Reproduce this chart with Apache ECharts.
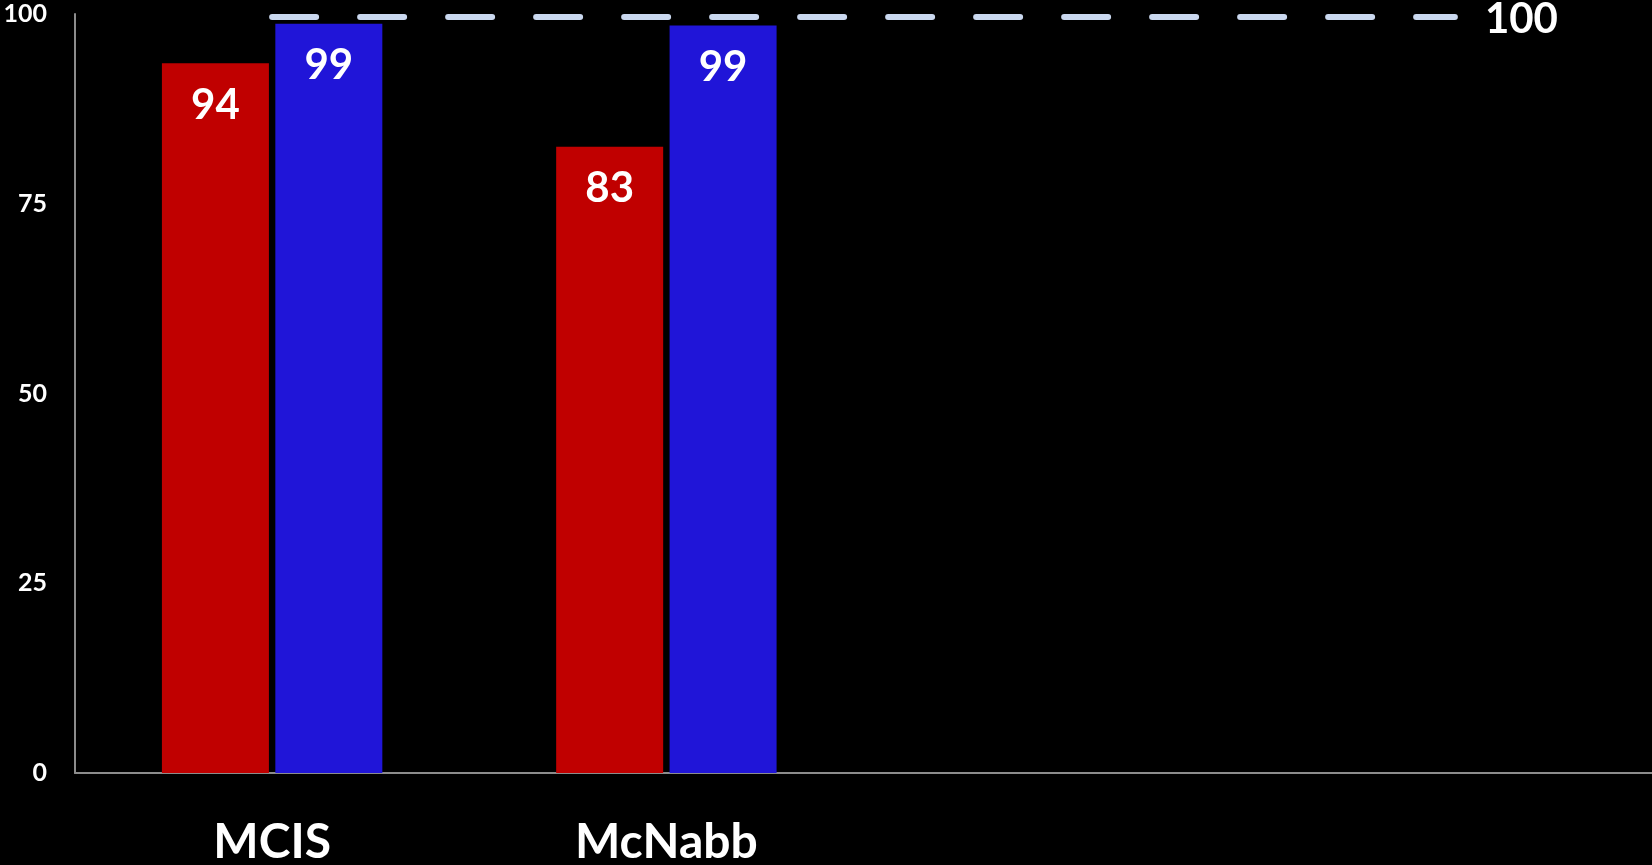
<!DOCTYPE html>
<html>
<head>
<meta charset="utf-8">
<title>MCIS vs McNabb</title>
<script src="https://cdn.jsdelivr.net/npm/echarts@6/dist/echarts.min.js"></script>
<style>
  html, body { margin: 0; padding: 0; background: #000; }
  #chart { width: 1652px; height: 865px; }
</style>
</head>
<body>
<div id="chart"></div>
<script>
  // data
  const categories = ['MCIS', 'McNabb', '', '']
  const redValues = [93.5, 82.5, null, null]
  const blueValues = [98.7, 98.5, null, null]
  const targetValues = [100, 100, 100, 100]
  const yTicks = [0, 25, 50, 75, 100]

  const font = 'Lato, "Open Sans", sans-serif'

  let barLabel = {
    show: true,
    position: 'insideTop',
    distance: 21,
    color: '#fff',
    fontSize: 42,
    fontWeight: 'bold',
    fontFamily: font,
    formatter: p => Math.round(p.value)
  }

  let myChart = echarts.init(document.getElementById('chart'))
  myChart.setOption({
    backgroundColor: '#000',
    animation: false,
    grid: {
      left: 75,
      right: 0,
      top: 14,
      bottom: 92,
      outerBoundsMode: 'none'
    },
    xAxis: {
      type: 'category',
      data: categories,
      axisLine: { lineStyle: { color: '#8c8c8c', width: 2 } },
      axisTick: { show: false },
      axisLabel: {
        color: '#fff',
        fontSize: 48,
        fontWeight: 'bold',
        fontFamily: font,
        margin: 46
      }
    },
    yAxis: [{
      type: 'value',
      min: yTicks[0],
      max: yTicks[yTicks.length - 1],
      interval: yTicks[1] - yTicks[0],
      axisLine: { show: true, lineStyle: { color: '#8c8c8c', width: 2 } },
      axisTick: { show: false },
      splitLine: { show: false },
      axisLabel: {
        color: '#fff',
        fontSize: 25,
        fontWeight: 'bold',
        fontFamily: font,
        margin: 28
      }
    }, {
      // 隐藏的轴，只为把目标线往下挪一点（原图里线被顶部裁了一半）
      type: 'value',
      show: false,
      min: 0,
      max: 100.4,
      splitLine: { show: false }
    }],
    series: [{
      name: 'red',
      type: 'bar',
      data: redValues,
      barWidth: 107,
      barGap: '6%',
      itemStyle: { color: '#c00000' },
      label: barLabel
    }, {
      name: 'blue',
      type: 'bar',
      data: blueValues,
      barWidth: 107,
      itemStyle: { color: '#2015d8' },
      label: barLabel
    }, {
      name: 'target',
      type: 'line',
      yAxisIndex: 1,
      data: targetValues,
      symbol: 'none',
      lineStyle: {
        color: '#cad8ef',
        width: 6,
        type: [44, 44],
        cap: 'round'
      },
      endLabel: {
        show: true,
        formatter: '{c}',
        distance: 30,
        offset: [0, 2],
        color: '#fff',
        fontSize: 42,
        fontWeight: 'bold',
        fontFamily: font
      }
    }]
  })
</script>
</body>
</html>
